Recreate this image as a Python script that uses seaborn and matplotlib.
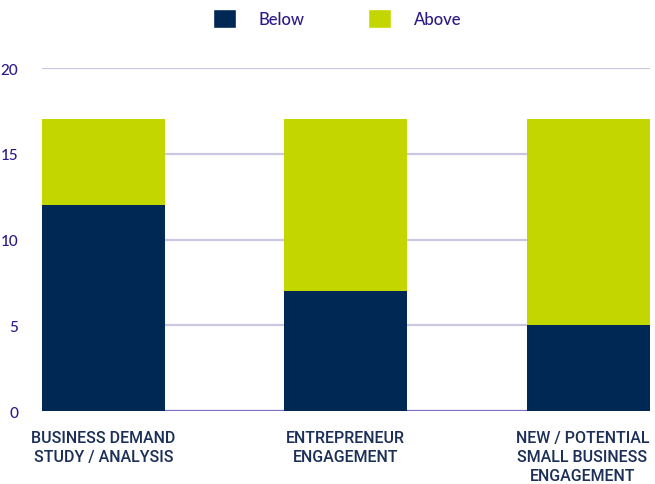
import matplotlib
matplotlib.use("Agg")
import matplotlib.pyplot as plt
import matplotlib.transforms as mtransforms
from matplotlib.patches import Patch
import seaborn as sns
import pandas as pd

categories = ["BUSINESS DEMAND\nSTUDY / ANALYSIS",
              "ENTREPRENEUR\nENGAGEMENT",
              "NEW / POTENTIAL\nSMALL BUSINESS\nENGAGEMENT"]
below = [12, 7, 5]
above = [5, 10, 12]
y_ticks = [0, 5, 10, 15, 20]

navy = "#002855"
lime = "#c4d600"
tick_color = "#2b1a86"
grid_color = "#cbc7e2"

sns.set_theme(style="white")
plt.rcParams["font.family"] = ["Lato", "DejaVu Sans"]

df = pd.DataFrame({"category": categories, "below": below, "above": above})
df["total"] = df["below"] + df["above"]

fig = plt.figure(figsize=(6.55, 4.85), dpi=100)
ax = fig.add_axes([0.064, 0.1505, 0.928, 0.7072])

for y in y_ticks[1:]:
    ax.axhline(y, color=grid_color, lw=1.6, zorder=0)

sns.barplot(data=df, x="category", y="total", color=lime, width=0.506,
            saturation=1, linewidth=0, ax=ax, zorder=2)
sns.barplot(data=df, x="category", y="below", color=navy, width=0.506,
            saturation=1, linewidth=0, ax=ax, zorder=3)
ax.axhline(0, color="#7b70c4", lw=1.6, zorder=1)

ax.set_xlim(-0.253, 2.253)
ax.set_ylim(0, 20)
ax.set_yticks(y_ticks)
ax.set_yticklabels([str(v) for v in y_ticks], color=tick_color, fontsize=11,
                   fontweight="medium")
ax.tick_params(axis="y", length=0, pad=17)
ax.tick_params(axis="x", length=0, pad=14)
for lab in ax.get_xticklabels():
    lab.set_color("#1b2f58")
    lab.set_fontsize(11.5)
    lab.set_fontfamily(["Roboto", "DejaVu Sans"])
    lab.set_fontweight("medium")
    lab.set_linespacing(1.3)
    lab.set_va("top")

# nudge the rightmost label left so it stays inside the figure
shift = mtransforms.ScaledTranslation(-6 / 100, 0, fig.dpi_scale_trans)
last_tick = ax.xaxis.get_major_ticks()[-1]
last_tick.label1.set_transform(last_tick.label1.get_transform() + shift)

ax.set_xlabel("")
ax.set_ylabel("")
for s in ax.spines.values():
    s.set_visible(False)

handles = [Patch(facecolor=navy, label="Below"), Patch(facecolor=lime, label="Above")]
leg = fig.legend(handles=handles, loc="center", bbox_to_anchor=(0.515, 0.959),
                 ncol=2, frameon=False, fontsize=12, handlelength=1.38, handleheight=1.38,
                 handletextpad=1.38, columnspacing=3.8, borderpad=0, borderaxespad=0)
for t in leg.get_texts():
    t.set_color(tick_color)
    t.set_fontweight("medium")

fig.savefig("out.png", dpi=100)
